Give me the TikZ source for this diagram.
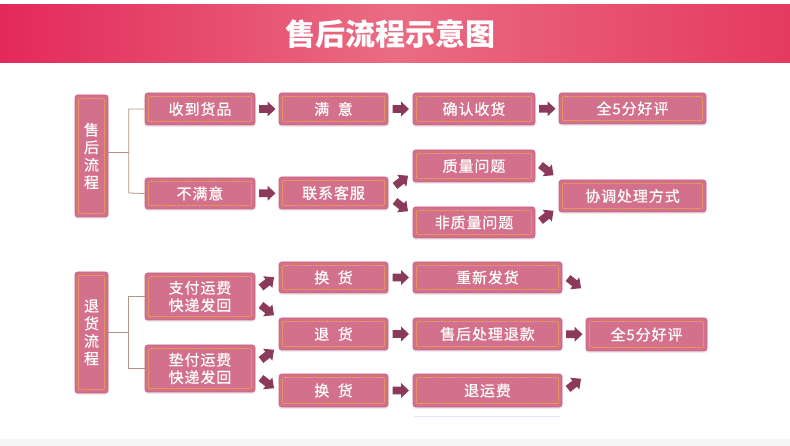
\documentclass[tikz,border=0pt]{standalone}
\usepackage{fontspec}
\newfontfamily\cjk{Noto Sans CJK SC}
\newfontfamily\cjkb{Noto Sans CJK SC}[FakeBold=0.6, LetterSpace=6]
\usetikzlibrary{calc,shadows}
\definecolor{boxfill}{HTML}{D3708C}
\definecolor{boxedge}{HTML}{C9617F}
\definecolor{dashcol}{HTML}{E9A352}
\definecolor{arrowcol}{HTML}{8C3A5B}
\definecolor{linecol}{HTML}{B39382}
\definecolor{barL}{HTML}{E3295B}
\definecolor{barM}{HTML}{EA6C82}
\definecolor{barR}{HTML}{E53A60}
\tikzset{
  box/.style={draw=boxedge, line width=0.6pt, fill=boxfill, rounded corners=2.5pt,
    text=white, font=\cjkb\fontsize{15}{17.5}\selectfont, inner sep=0pt, align=center,
    drop shadow={shadow xshift=0pt, shadow yshift=-2pt, fill=blue!25!black!15, opacity=0.45},
    path picture={\draw[dashcol, line width=0.6pt, dash pattern=on 1.6pt off 0.8pt, rounded corners=1pt]
      ([shift={(3.5pt,3.5pt)}]path picture bounding box.south west) rectangle
      ([shift={(-3.5pt,-3.5pt)}]path picture bounding box.north east);}},
  bracket/.style={draw=linecol, line width=0.8pt},
  fatarrow/.pic={\fill[arrowcol] (-8,-3.8) -- (0.5,-3.8) -- (0.5,-7.5) -- (8.5,0) -- (0.5,7.5) -- (0.5,3.8) -- (-8,3.8) -- cycle;}
}
\begin{document}
\begin{tikzpicture}[x=1pt,y=-1pt]
\useasboundingbox (0,0) rectangle (790,446);
\fill[white] (0,0) rectangle (790,446);
\fill[black!4] (0,439) rectangle (790,446);
% title bar
\shade[left color=barL, right color=barR, middle color=barM] (0,5) rectangle (790,63);
\node[text=white, font=\cjk\bfseries\fontsize{30}{32}\selectfont] (title) at (390,34) {售后流程示意图};
\draw[blue!10, line width=1.5pt] (414,416.5) -- (560,416.5);

% section 1
\node[box, minimum width=33pt, minimum height=122pt] (sh) at (91.5,156) {售\\后\\流\\程};
\node[box, minimum width=110pt, minimum height=32pt] (a1) at (200,109) {收到货品};
\node[box, minimum width=109pt, minimum height=32pt] (a2) at (333.5,109) {满\ \ 意};
\node[box, minimum width=122pt, minimum height=32pt] (a3) at (474,109) {确认收货};
\node[box, minimum width=147pt, minimum height=31pt] (a4) at (632.5,108.5) {全5分好评};
\node[box, minimum width=110pt, minimum height=31pt] (b1) at (200,193.5) {不满意};
\node[box, minimum width=109pt, minimum height=32pt] (b2) at (333.5,193) {联系客服};
\node[box, minimum width=122pt, minimum height=32pt] (b3) at (474,166) {质量问题};
\node[box, minimum width=122pt, minimum height=31pt] (b4) at (474,222.5) {非质量问题};
\node[box, minimum width=147pt, minimum height=32pt] (b5) at (632.5,196) {协调处理方式};

\draw[bracket] ($(sh.east)+(0,-4)$) -- ++(21,0);
\draw[bracket] (a1.west) -| ++(-16,84) -- (b1.west);

\pic at ($(a1.east)!0.5!(a2.west)$) {fatarrow};
\pic at ($(a2.east)!0.5!(a3.west)$) {fatarrow};
\pic at ($(a3.east)!0.5!(a4.west)$) {fatarrow};
\pic at ($(b1.east)!0.5!(b2.west)$) {fatarrow};
\pic[rotate=38] at ($(b2.east)+(13,-12)$) {fatarrow};
\pic[rotate=-38] at ($(b2.east)+(13,13)$) {fatarrow};
\pic[rotate=-38] at ($(b3.east)+(11.5,4)$) {fatarrow};
\pic[rotate=38] at ($(b4.east)+(11.5,-6.5)$) {fatarrow};

% section 2
\node[box, minimum width=33pt, minimum height=121pt] (th) at (91.5,332.5) {退\\货\\流\\程};
\node[box, minimum width=110pt, minimum height=47pt] (c1) at (200,296.5) {支付运费\\快递发回};
\node[box, minimum width=110pt, minimum height=47pt] (c2) at (200,368.5) {垫付运费\\快递发回};
\node[box, minimum width=109pt, minimum height=31pt] (d1) at (333.5,277.5) {换\ \ 货};
\node[box, minimum width=109pt, minimum height=32pt] (d2) at (333.5,334) {退\ \ 货};
\node[box, minimum width=109pt, minimum height=33pt] (d3) at (333.5,390.5) {换\ \ 货};
\node[box, minimum width=149pt, minimum height=31pt] (e1) at (487.5,277.5) {重新发货};
\node[box, minimum width=149pt, minimum height=32pt] (e2) at (487.5,334) {售后处理退款};
\node[box, minimum width=149pt, minimum height=33pt] (e3) at (487.5,390.5) {退运费};
\node[box, minimum width=121pt, minimum height=33pt] (f1) at (646.5,334.5) {全5分好评};

\draw[bracket] (th.east) -- ++(21,0);
\draw[bracket] (c1.west) -| ++(-16,72) -- (c2.west);

\pic[rotate=38] at ($(c1.east)+(12,-14)$) {fatarrow};
\pic[rotate=-38] at ($(c1.east)+(12,13.5)$) {fatarrow};
\pic[rotate=38] at ($(c2.east)+(12,-13.5)$) {fatarrow};
\pic[rotate=-38] at ($(c2.east)+(12,14.5)$) {fatarrow};
\pic at ($(d1.east)!0.5!(e1.west)$) {fatarrow};
\pic at ($(d2.east)!0.5!(e2.west)$) {fatarrow};
\pic at ($(d3.east)!0.5!(e3.west)$) {fatarrow};
\pic[rotate=-38] at ($(e1.east)+(12,5.5)$) {fatarrow};
\pic at ($(e2.east)!0.5!(f1.west)$) {fatarrow};
\pic[rotate=38] at ($(e3.east)+(12,-6.5)$) {fatarrow};
\end{tikzpicture}
\end{document}
